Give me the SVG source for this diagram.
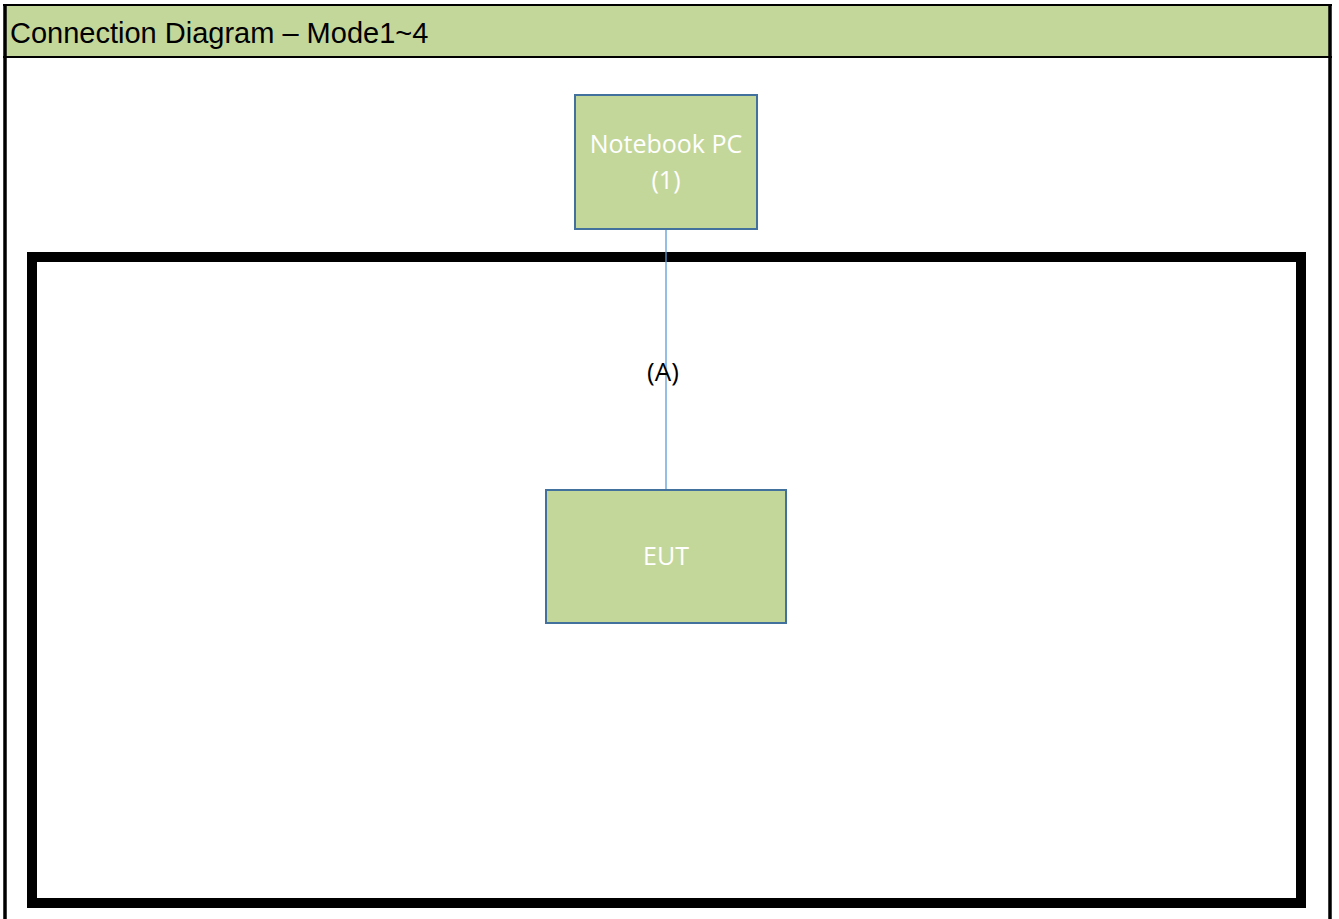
<svg xmlns="http://www.w3.org/2000/svg" width="1339" height="919" viewBox="0 0 1339 919">
<style>
.node{fill:#C4D79B;stroke:#41719C;stroke-width:2}
.nl{font-family:"Open Sans","Noto Sans",sans-serif;font-size:25px;fill:#FFFFFF;text-anchor:middle}
.conn{stroke:#5B9BD5;stroke-width:1.3;fill:none}
</style>
<rect width="1339" height="919" fill="#FFFFFF"/>
<g id="frame">
<rect x="5" y="5" width="1325" height="52" fill="#C4D79B"/>
<line x1="3" y1="5" x2="1332" y2="5" stroke="#000" stroke-width="2"/>
<line x1="3" y1="57" x2="1332" y2="57" stroke="#000" stroke-width="2"/>
<line x1="5" y1="4" x2="5" y2="919" stroke="#000" stroke-width="3.5"/>
<line x1="1330" y1="4" x2="1330" y2="919" stroke="#000" stroke-width="3.5"/>
<text x="10" y="43" font-family="Liberation Sans, Arial, sans-serif" font-size="29" fill="#000">Connection Diagram – Mode1~4</text>
</g>
<g id="enclosure">
<rect x="32" y="257" width="1269" height="646" fill="none" stroke="#000" stroke-width="10"/>
</g>
<g id="connectors">
<line class="conn" x1="666" y1="229" x2="666" y2="490"/>
<text x="663" y="381" font-family="Open Sans, Noto Sans, sans-serif" font-size="26" fill="#000" text-anchor="middle">(A)</text>
</g>
<g id="notebook-pc">
<rect class="node" x="575" y="95" width="182" height="134"/>
<text class="nl" x="666" y="153">Notebook PC</text>
<text class="nl" x="666" y="189">(1)</text>
</g>
<g id="eut">
<rect class="node" x="546" y="490" width="240" height="133"/>
<text class="nl" x="666" y="565">EUT</text>
</g>
</svg>
